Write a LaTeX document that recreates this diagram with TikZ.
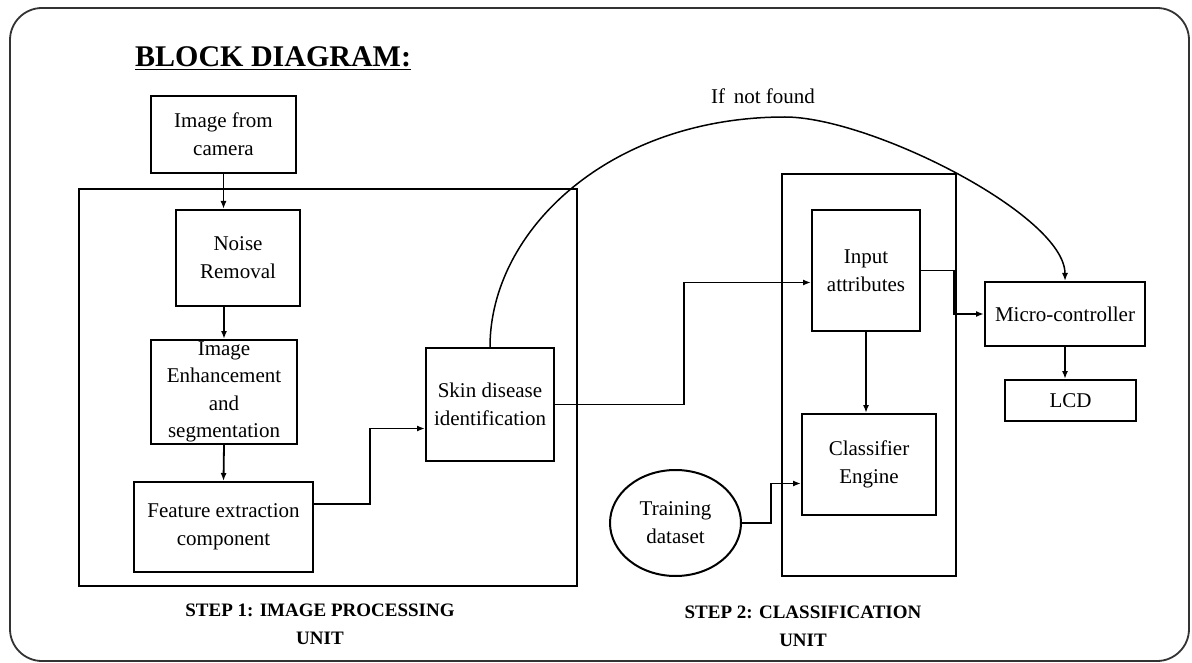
\documentclass[tikz,border=0pt]{standalone}
\usepackage{fontspec}
\setmainfont{Liberation Serif}
\usepackage{tikz}
\usetikzlibrary{arrows.meta}
\usetikzlibrary{positioning}
\usetikzlibrary{shapes.geometric}
\tikzset{>={Latex[length=8pt,width=6pt]}}
\tikzset{
  blk/.style={rectangle,draw,line width=2pt,inner sep=0pt,align=center,font=\fontsize{21}{28}\selectfont},
  unitbox/.style={rectangle,draw,line width=2pt,inner sep=0pt},
  steplbl/.style={align=center,font=\bfseries\fontsize{19}{28}\selectfont},
  conn/.style={->,line width=1.8pt}
}

\begin{document}
\begin{tikzpicture}[x=1pt,y=-1pt]
    \useasboundingbox (0,0) rectangle (1192,663);
    \draw [line width=1.8pt,black!80,rounded corners=32pt] (10,8) rectangle (1189,661);
    \node at (135,67) [anchor=base west,inner sep=0pt,font=\bfseries\fontsize{30}{36}\selectfont] (title) {\underline{BLOCK DIAGRAM:}};
    % the two units
    \node at (328,387.5) [unitbox,minimum width=498,minimum height=397] (unit1) {};
    \node at (869,375) [unitbox,minimum width=174,minimum height=402] (unit2) {};
    \node at (320,624) [steplbl] (lbl1) {STEP 1: IMAGE PROCESSING\\UNIT};
    \node at (803,626) [steplbl] (lbl2) {STEP 2: CLASSIFICATION\\UNIT};
    % blocks
    \node at (223.5,134.5) [blk,minimum width=145,minimum height=77] (cam) {Image from\\camera};
    \node at (238,258) [blk,minimum width=124,minimum height=96] (noise) {Noise\\Removal};
    \node at (224,392) [blk,minimum width=146,minimum height=104,inner ysep=-3pt,font=\fontsize{21}{27.5}\selectfont] (enh) {Image\\Enhancement\\and\\segmentation};
    \node at (223.5,527) [blk,minimum width=179,minimum height=90] (feat) {Feature extraction\\component};
    \node at (490,404.5) [blk,minimum width=128,minimum height=113] (skin) {Skin disease\\identification};
    \node at (866,270.5) [blk,minimum width=108,minimum height=121] (inp) {Input\\attributes};
    \node at (869,464.5) [blk,minimum width=134,minimum height=101] (clas_e) {Classifier\\Engine};
    \node at (675.5,523) [blk,ellipse,minimum width=131,minimum height=106] (train) {Training\\dataset};
    \node at (1065,314) [blk,minimum width=160,minimum height=64] (mcu) {Micro-controller};
    \node at (1070.5,400.5) [blk,minimum width=131,minimum height=41] (lcd) {LCD};
    \coordinate (peak) at (785,117);
    \node at (763,96) [font=\fontsize{21}{24}\selectfont] (nf) {If\, not found};
    % connectors
    \draw [conn] (cam.south) to (cam.south |- noise.north);
    \draw [conn] (enh.north |- noise.south) to (enh.north);
    \draw [conn] (enh.south) to (feat.north);
    \draw [conn] ([yshift=23pt]feat.east) -- ++(56,0) |- ([yshift=-24pt]skin.west);
    \draw [conn] (skin.east) -- ++(129,0) |- ([yshift=-12pt]inp.west);
    \draw [conn] (inp.south) to (inp.south |- clas_e.north);
    \draw [conn] (train.east) -- ++(29,0) |- ([yshift=-19pt]clas_e.west);
    \draw [conn] (inp.east) -- ++(33,0) |- (mcu.west);
    \draw [conn] (mcu.south) to (mcu.south |- lcd.north);
    \draw [->,line width=1.5pt] (skin.north) .. controls (490,230) and (610,117) .. (peak)
      .. controls (870,117) and (1065,215) .. (mcu.north);
\end{tikzpicture}
\end{document}
